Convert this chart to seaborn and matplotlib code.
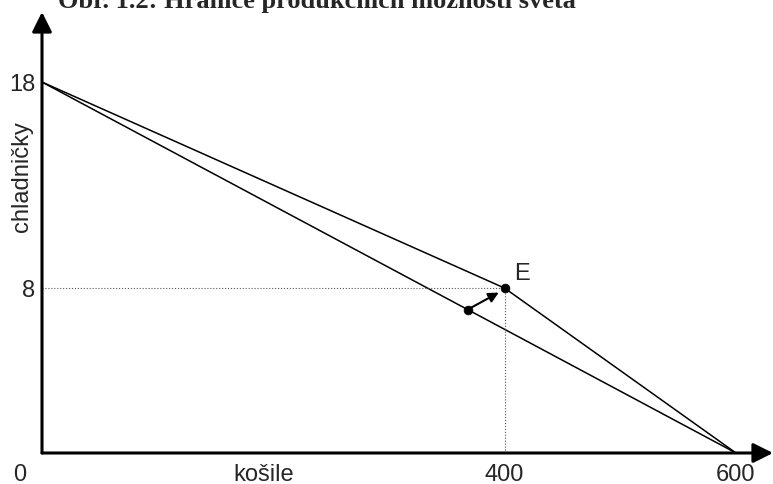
import numpy as np
import pandas as pd
import seaborn as sns
import matplotlib.pyplot as plt

# production possibility frontiers (košile, chladničky)
world_x = [0, 400, 600]
world_y = [18, 8, 0]
inner_x = [0, 600]
inner_y = [18, 0]

# points: inner point and E
pt_x = [368, 400]
pt_y = [6.96, 8]

x_ticks = [400, 600]
y_ticks = [8, 18]

sns.set_style("white")
plt.rcParams['font.family'] = ['Liberation Sans', 'DejaVu Sans']

fig = plt.figure(figsize=(7.73, 4.84), dpi=100)
ax = fig.add_axes([42 / 773, 31 / 484, (773 - 42) / 773, (484 - 31 - 12) / 484])

df_outer = pd.DataFrame({'x': world_x, 'y': world_y})
df_inner = pd.DataFrame({'x': inner_x, 'y': inner_y})
sns.lineplot(data=df_outer, x='x', y='y', color='black', lw=1.1, sort=False, ax=ax)
sns.lineplot(data=df_inner, x='x', y='y', color='black', lw=1.1, sort=False, ax=ax)

# dotted guides to E
ax.plot([0, pt_x[1]], [pt_y[1], pt_y[1]], ls=':', color='#555555', lw=0.8)
ax.plot([pt_x[1], pt_x[1]], [0, pt_y[1]], ls=':', color='#555555', lw=0.8)

sns.scatterplot(x=pt_x, y=pt_y, color='black', s=40, edgecolor='black', zorder=5, ax=ax)
ax.annotate('', xy=(pt_x[1] - 3, pt_y[1] - 0.15), xytext=(pt_x[0], pt_y[0]),
            arrowprops=dict(arrowstyle='-|>', color='black', lw=1.5, mutation_scale=15, shrinkA=0, shrinkB=2))
ax.annotate('E', xy=(pt_x[1], pt_y[1]), xytext=(7, 6), textcoords='offset points', fontsize=17)

ax.set_xlim(0, 632)
ax.set_ylim(0, 21.4)

for s in ['top', 'right', 'left', 'bottom']:
    ax.spines[s].set_visible(False)
ax.annotate('', xy=(1, 0), xytext=(0, 0), xycoords='axes fraction',
            arrowprops=dict(arrowstyle='-|>', color='black', lw=2.2, mutation_scale=30, shrinkA=0, shrinkB=0))
ax.annotate('', xy=(0, 1), xytext=(0, 0), xycoords='axes fraction',
            arrowprops=dict(arrowstyle='-|>', color='black', lw=2.2, mutation_scale=30, shrinkA=0, shrinkB=0))

ax.set_xticks(x_ticks)
ax.set_yticks(y_ticks)
ax.tick_params(axis='x', length=0, labelsize=17, pad=8)
ax.tick_params(axis='y', length=0, labelsize=17, pad=5)
ax.annotate('0', xy=(0, 0), xytext=(-16, -8), textcoords='offset points',
            fontsize=17, ha='center', va='top')

ax.set_xlabel('')
ax.set_ylabel('')
ax.annotate('košile', xy=(192, 0), xytext=(0, -8), textcoords='offset points',
            fontsize=17, ha='center', va='top')
fig.text(22 / 773, 1 - 177 / 484, 'chladničky', rotation=90, fontsize=17, ha='center', va='center')

fig.text(58 / 773, 1 - 8 / 484, 'Obr. 1.2: Hranice produkčních možností světa', fontsize=19,
         fontweight='bold', family='Liberation Serif', ha='left', va='baseline')

fig.savefig('out.png', dpi=100)
